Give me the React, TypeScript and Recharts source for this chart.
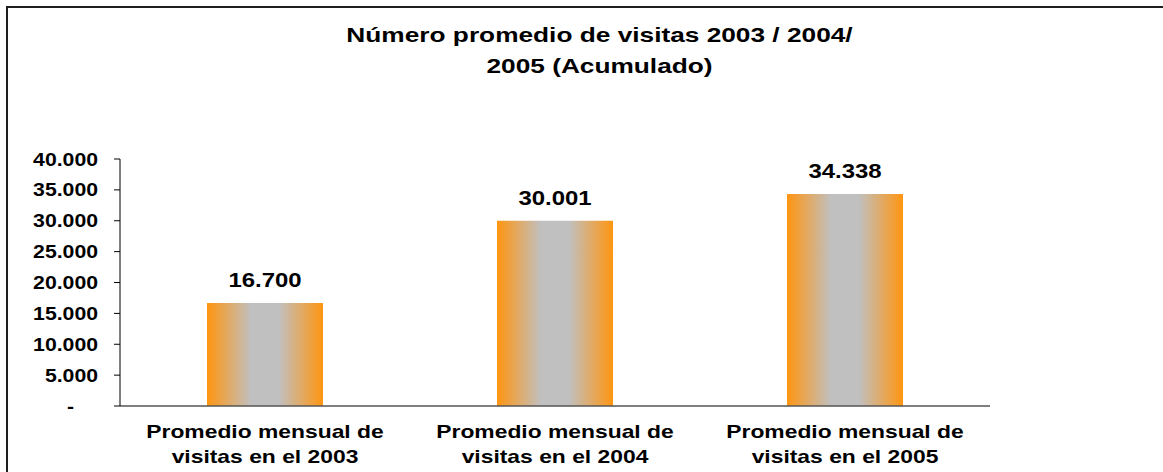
import { BarChart, Bar, XAxis, YAxis, LabelList } from "recharts";

const categories = [
  "Promedio mensual de visitas en el 2003",
  "Promedio mensual de visitas en el 2004",
  "Promedio mensual de visitas en el 2005",
];
const visitas = [16700, 30001, 34338];
const yTicks = [0, 5000, 10000, 15000, 20000, 25000, 30000, 35000, 40000];
const edgeTicks = [0, 1, 2, 3];

const data = categories.map((name, i) => ({
  name,
  visitas: visitas[i],
  pos: i + 0.5,
}));

const FONT = "'Liberation Sans', Arial, Helvetica, sans-serif";

// Excel style: dots as thousands separator, dash for zero
const fmt = (v: number) =>
  v === 0 ? "-" : String(Math.round(v)).replace(/\B(?=(\d{3})+(?!\d))/g, ".");

function YTick({ x, y, payload }: any) {
  const zero = payload.value === 0;
  return (
    <g transform={`translate(${zero ? x - 24 : x},${y})`}>
      <text
        transform="scale(1.18,1)"
        textAnchor="end"
        dy={6.5}
        fontFamily={FONT}
        fontWeight="bold"
        fontSize={18}
        fill="#000"
      >
        {fmt(payload.value)}
      </text>
    </g>
  );
}

function CatTick({ x, y, payload }: any) {
  const words = String(payload.value).split(" ");
  const lines = [words.slice(0, 3).join(" "), words.slice(3).join(" ")];
  return (
    <g transform={`translate(${x},${y})`}>
      <text
        transform="scale(1.27,1)"
        textAnchor="middle"
        fontFamily={FONT}
        fontWeight="bold"
        fontSize={18}
        fill="#000"
      >
        <tspan x={0} y={32}>
          {lines[0]}
        </tspan>
        <tspan x={0} y={57}>
          {lines[1]}
        </tspan>
      </text>
    </g>
  );
}

function TopLabel({ x, y, width, value }: any) {
  return (
    <g transform={`translate(${x + width / 2},${y - 15.5})`}>
      <text
        transform="scale(1.14,1)"
        textAnchor="middle"
        fontFamily={FONT}
        fontWeight="bold"
        fontSize={21}
        fill="#000"
      >
        {fmt(value)}
      </text>
    </g>
  );
}

export default function App() {
  return (
    <div
      style={{
        position: "absolute",
        left: 0,
        top: 0,
        width: 1163,
        height: 472,
        overflow: "hidden",
        background: "#fff",
      }}
    >
      {/* chart frame, runs off the right and bottom edges */}
      <div
        style={{
          position: "absolute",
          left: 6,
          top: 6,
          width: 1200,
          height: 500,
          border: "2px solid #1e1e1e",
        }}
      />
      <div
        style={{
          position: "absolute",
          left: 0,
          top: 19,
          width: 1200,
          textAlign: "center",
          fontFamily: FONT,
          fontWeight: "bold",
          fontSize: 21,
          lineHeight: "31px",
          color: "#000",
        }}
      >
        <div style={{ display: "inline-block", transform: "scaleX(1.25)" }}>
          Número promedio de visitas 2003 / 2004/
          <br />
          2005 (Acumulado)
        </div>
      </div>
      <div style={{ position: "absolute", left: 0, top: 0 }}>
        <BarChart
          width={1163}
          height={472}
          data={data}
          margin={{ top: 159, right: 173, bottom: 0, left: 10 }}
          barCategoryGap="30%"
        >
          <defs>
            <linearGradient id="barFill" x1="0" y1="0" x2="1" y2="0">
              <stop offset="0" stopColor="#FF9510" />
              <stop offset="0.38" stopColor="#C0C0C0" />
              <stop offset="0.62" stopColor="#C0C0C0" />
              <stop offset="1" stopColor="#FF9510" />
            </linearGradient>
          </defs>
          <XAxis
            xAxisId="edge"
            dataKey="pos"
            type="number"
            domain={[0, 3]}
            ticks={edgeTicks}
            tick={false}
            axisLine={false}
            tickLine={{ stroke: "#000" }}
            tickSize={5}
            height={0}
          />
          <XAxis
            xAxisId="cat"
            dataKey="name"
            axisLine={{ stroke: "#555", strokeWidth: 1.5 }}
            tickLine={false}
            tickSize={0}
            tickMargin={0}
            tick={<CatTick />}
            height={66}
            interval={0}
          />
          <YAxis
            domain={[0, 40000]}
            ticks={yTicks}
            width={110}
            tickSize={6}
            tickMargin={16}
            axisLine={{ stroke: "#000" }}
            tickLine={{ stroke: "#000" }}
            tick={<YTick />}
            interval={0}
          />
          <Bar
            xAxisId="cat"
            dataKey="visitas"
            fill="url(#barFill)"
            isAnimationActive={false}
          >
            <LabelList dataKey="visitas" content={<TopLabel />} />
          </Bar>
        </BarChart>
      </div>
    </div>
  );
}
